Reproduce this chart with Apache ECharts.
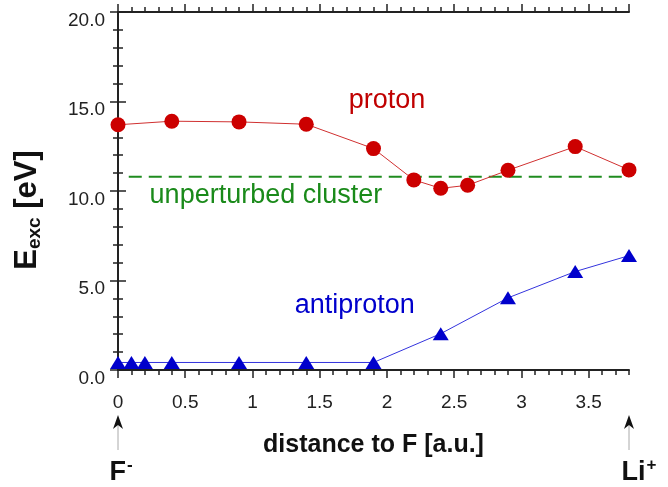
<!DOCTYPE html>
<html>
<head>
<meta charset="utf-8">
<script src="https://cdn.jsdelivr.net/npm/echarts@6/dist/echarts.min.js"></script>
<style>
    html, body {margin: 0; padding: 0; background: #fff;}
    #main {width: 668px; height: 487px;}
</style>
</head>
<body>
<div id="main"></div>
<script>
// distance to F [a.u.]
var protonX = [0, 0.4, 0.9, 1.4, 1.9, 2.2, 2.4, 2.6, 2.9, 3.4, 3.8];
var protonE = [13.7, 13.9, 13.86, 13.73, 12.37, 10.62, 10.15, 10.32, 11.16, 12.48, 11.18];
var antiX = [0, 0.1, 0.2, 0.4, 0.9, 1.4, 1.9, 2.4, 2.9, 3.4, 3.8];
var antiE = [0.42, 0.42, 0.42, 0.42, 0.42, 0.42, 0.42, 2.03, 4.03, 5.5, 6.39];
var clusterX = [0.08, 3.8];
var clusterE = [10.8, 10.8];
var xTicks = ['0', '0.5', '1', '1.5', '2', '2.5', '3', '3.5'];
var yTicks = ['0.0', '5.0', '10.0', '15.0', '20.0'];

function pairs(xs, ys) {
    var res = [];
    for (var i = 0; i < xs.length; i++) {
        res.push([xs[i], ys[i]]);
    }
    return res;
}

var fontFam = 'Liberation Sans, Arial, sans-serif';
var black = '#111';

function xAxisDef(pos, major) {
    return {
        type: 'value',
        position: pos,
        min: 0,
        max: 3.8,
        interval: major ? 0.5 : 0.1,
        axisLine: {show: major, lineStyle: {color: '#222', width: 2}},
        axisTick: {show: true, inside: false, length: major ? 8 : 5, lineStyle: {color: '#222', width: 1.5}},
        axisLabel: {
            show: major && pos === 'bottom',
            showMaxLabel: false,
            margin: 23,
            fontSize: 19,
            fontFamily: fontFam,
            color: '#222',
            formatter: function (v) {
                var k = Math.round(v / 0.5);
                return xTicks[k] !== undefined ? xTicks[k] : '';
            }
        },
        splitLine: {show: false}
    };
}

var chart = echarts.init(document.getElementById('main'));

var xAxes = [xAxisDef('bottom', true), xAxisDef('bottom', false), xAxisDef('top', true), xAxisDef('top', false)];
xAxes[0].name = 'distance to F [a.u.]';
xAxes[0].nameLocation = 'middle';
xAxes[0].nameGap = 63;
xAxes[0].nameTextStyle = {fontSize: 25, fontWeight: 'bold', color: black, fontFamily: fontFam};

function yAxisDef(pos) {
    return {
        type: 'value',
        position: pos,
        min: 0,
        max: 20,
        interval: 5,
        axisLine: {show: true, lineStyle: {color: '#222', width: 2}},
        axisTick: {show: true, inside: false, length: 8, lineStyle: {color: '#222', width: 1.5}},
        minorTick: {show: true, splitNumber: 5, length: 5, lineStyle: {color: '#222', width: 1.5}},
        axisLabel: {
            show: pos === 'left',
            margin: 13,
            fontSize: 19,
            fontFamily: fontFam,
            color: '#222',
            verticalAlign: 'top',
            lineHeight: 17,
            formatter: function (v) {
                return yTicks[Math.round(v / 5)];
            }
        },
        splitLine: {show: false}
    };
}

var yAxes = [yAxisDef('left'), yAxisDef('right')];

chart.setOption({
    animation: false,
    grid: {left: 118, right: 39, top: 12, bottom: 117},
    xAxis: xAxes,
    yAxis: yAxes,
    series: [
        {
            name: 'unperturbed cluster',
            type: 'line',
            data: pairs(clusterX, clusterE),
            symbol: 'none',
            lineStyle: {color: '#1f8c1f', width: 2, type: [13, 7]}
        },
        {
            name: 'proton',
            type: 'line',
            data: pairs(protonX, protonE),
            symbol: 'circle',
            symbolSize: 15,
            itemStyle: {color: '#cc0000'},
            lineStyle: {color: '#d03030', width: 1}
        },
        {
            name: 'antiproton',
            type: 'line',
            data: pairs(antiX, antiE),
            symbol: 'triangle',
            symbolSize: [16, 13],
            itemStyle: {color: '#0000cc'},
            lineStyle: {color: '#3333dd', width: 1}
        }
    ]
});

function px(x, y) {
    return chart.convertToPixel({xAxisIndex: 0, yAxisIndex: 0}, [x, y]);
}

var pL = px(0, 0);
var pR = px(3.8, 0);

// little arrows pointing at F- and Li+
function arrow(x) {
    return [
        {type: 'line', shape: {x1: x, y1: 450, x2: x, y2: 422}, style: {stroke: '#aaa', lineWidth: 1}},
        {type: 'polygon', shape: {points: [[x, 415], [x - 5, 429], [x, 425], [x + 5, 429]]}, style: {fill: '#111'}}
    ];
}

var labelStyle = function (text, fill) {
    return {text: text, fill: fill, fontSize: 27, fontFamily: fontFam, textAlign: 'center', textVerticalAlign: 'middle'};
};

var pProton = px(2.0, 15.08);
var pCluster = px(1.10, 9.72);
var pAnti = px(1.76, 3.58);

var supRich = {
    m: {fontSize: 27, fontWeight: 'bold', fontFamily: fontFam, fill: black},
    s: {fontSize: 17, fontWeight: 'bold', fontFamily: fontFam, fill: black, padding: [0, 0, 16, 1]}
};

chart.setOption({
    graphic: arrow(pL[0]).concat(arrow(pR[0])).concat([
        {type: 'text', x: pProton[0], y: pProton[1], style: labelStyle('proton', '#c00000')},
        {type: 'text', x: pCluster[0], y: pCluster[1], style: labelStyle('unperturbed cluster', '#1a8a1a')},
        {type: 'text', x: pAnti[0], y: pAnti[1], style: labelStyle('antiproton', '#0000cc')},
        {
            type: 'text', x: 27, y: 210, rotation: Math.PI / 2,
            style: {
                text: '{m|E}{s|exc}{m| [eV]}', textAlign: 'center', textVerticalAlign: 'middle',
                rich: {
                    m: {fontSize: 31, fontWeight: 'bold', fontFamily: fontFam, fill: black},
                    s: {fontSize: 19, fontWeight: 'bold', fontFamily: fontFam, fill: black, padding: [16, 0, 0, 0]}
                }
            }
        },
        {
            type: 'text', x: pL[0] + 3, y: 473,
            style: {text: '{m|F}{s|-}', textAlign: 'center', textVerticalAlign: 'middle', rich: supRich}
        },
        {
            type: 'text', x: pR[0] + 10, y: 473,
            style: {text: '{m|Li}{s|+}', textAlign: 'center', textVerticalAlign: 'middle', rich: supRich}
        }
    ])
});
</script>
</body>
</html>
